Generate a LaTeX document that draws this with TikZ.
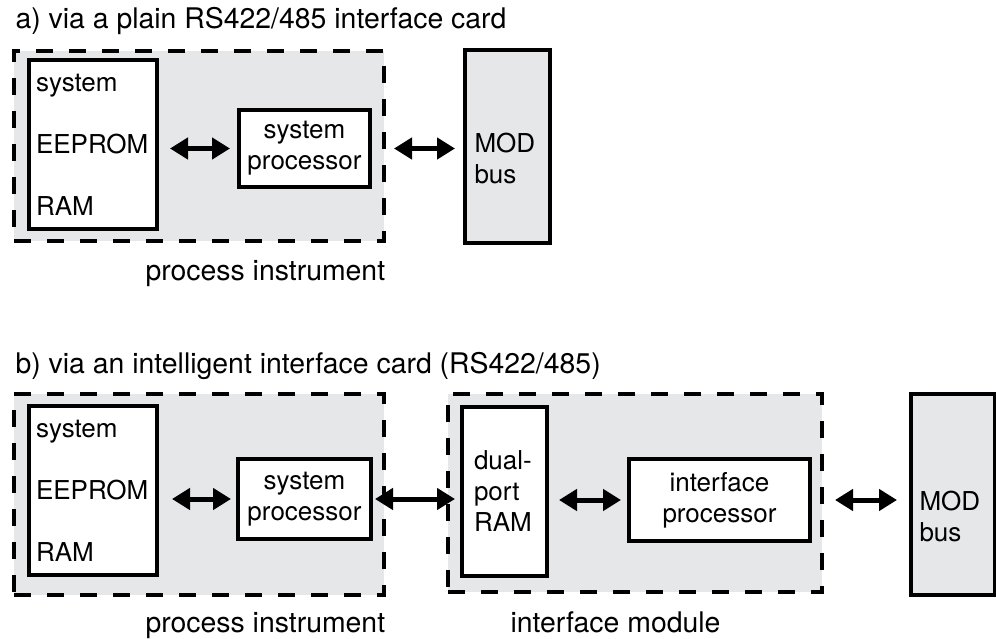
\documentclass[tikz,border=0pt]{standalone}
\usepackage{fontspec}
\setmainfont{TeX Gyre Heros}
\usetikzlibrary{arrows.meta}
\definecolor{boxgray}{HTML}{E6E7E8}
\newcommand{\boxfont}{\fontsize{26}{31}\selectfont}
\newcommand{\capfont}{\fontsize{28.4}{34}\selectfont}
\tikzset{
  group/.style={draw, fill=boxgray, line width=4pt, dash pattern=on 17pt off 16pt, inner sep=0pt},
  unit/.style={draw, fill=white, line width=4pt, inner sep=0pt, align=center},
  bus/.style={draw, fill=boxgray, line width=4pt, inner sep=0pt},
  link/.style={line width=5pt, {Triangle[length=18pt,width=21pt]}-{Triangle[length=18pt,width=21pt]}},
  caption/.style={anchor=base west, font=\capfont},
}
\begin{document}
\begin{tikzpicture}[x=1pt,y=-1pt,font=\boxfont]
    \useasboundingbox (0,0) rectangle (996,639);
    % --- (a) plain RS422/485 card: the system processor talks to the bus itself ---
    \node[caption] (titleA) at (12,29) {a) via a plain RS422/485 interface card};
    \node[group, minimum width=370, minimum height=190] (instA) at (199,146) {};
    \node[unit, minimum width=128, minimum height=169, text width=114, inner xsep=7pt, align=left]
      (memA) at (93,144.5) {system\\[31pt]EEPROM\\[31pt]RAM};
    \node[unit, minimum width=131, minimum height=77] (procA) at (304.5,148.5) {system\\processor};
    \node[bus, minimum width=85, minimum height=193] (modA) at (507.5,146.5) {};
    \node[anchor=north west, align=left] (modAtxt) at (471,130) {MOD\\bus};
    \draw[link, shorten <=11pt, shorten >=7pt] (procA.west -| memA.east) -- (procA.west);
    \draw[link, shorten <=22pt, shorten >=8pt] (procA.east) -- (procA.east -| modA.west);
    \node[caption] (capA) at (142,280) {process instrument};
    % --- (b) intelligent card: dual-port RAM and its own processor ---
    \node[caption] (titleB) at (12,373) {b) via an intelligent interface card (RS422/485)};
    \node[group, minimum width=370, minimum height=201] (instB) at (199,494.5) {};
    \node[group, minimum width=374, minimum height=198] (ifmB) at (635,493) {};
    \node[unit, minimum width=128, minimum height=169, text width=114, inner xsep=7pt, align=left]
      (memB) at (93,490.5) {system\\[31pt]EEPROM\\[31pt]RAM};
    \node[unit, minimum width=133, minimum height=80] (procB) at (304.5,499) {system\\processor};
    \node[unit, minimum width=85, minimum height=169, text width=61, inner xsep=12pt, align=left]
      (dpB) at (504.5,491.5) {\mbox{dual-}\\port\\RAM};
    \node[unit, minimum width=181, minimum height=82] (ipB) at (719.5,500) {interface\\processor};
    \node[bus, minimum width=84, minimum height=201] (modB) at (953,494.5) {};
    \node[anchor=north west, align=left] (modBtxt) at (916,488) {MOD\\bus};
    \draw[link, shorten <=13pt, shorten >=5pt] (procB.west -| memB.east) -- (procB.west);
    \draw[link, shorten <=2pt, shorten >=5pt] (procB.east) -- (procB.east -| dpB.west);
    \draw[link, shorten <=10pt, shorten >=6pt] (dpB.east |- ipB.west) -- (ipB.west);
    \draw[link, shorten <=23pt, shorten >=12pt] (ipB.east) -- (ipB.east -| modB.west);
    \node[caption] (capB1) at (142,632) {process instrument};
    \node[caption] (capB2) at (507,632) {interface module};
\end{tikzpicture}
\end{document}
